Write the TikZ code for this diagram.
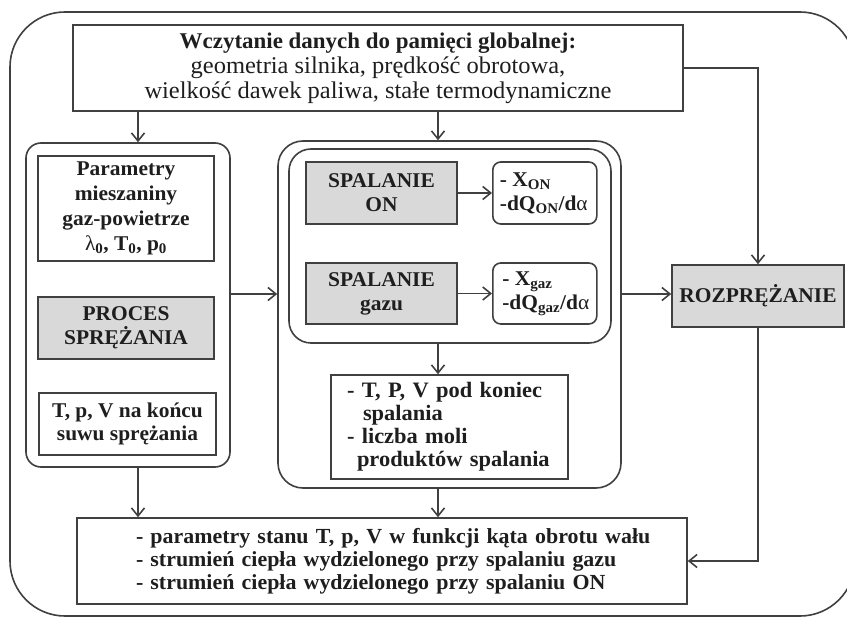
\documentclass[tikz,border=0pt]{standalone}
\usepackage{fontspec}
\setmainfont{Liberation Serif}[FakeStretch=1.02]
\usetikzlibrary{arrows.meta}
\definecolor{lc}{HTML}{404040}
\definecolor{fillg}{HTML}{D9D9D9}
\definecolor{txt}{HTML}{1E1E1E}
\begin{document}
\begin{tikzpicture}[x=1pt,y=-1pt,
  ln/.style={draw=lc, line width=1.6pt},
  arr/.style={ln, -{Straight Barb[length=8pt,width=13pt]}},
  box/.style={ln, rectangle, inner sep=0pt, align=center, text=txt,
    font=\fontsize{21}{24}\selectfont\bfseries},
  graybox/.style={box, fill=fillg},
  cont/.style={ln, rectangle, inner sep=0pt},
  ]
\useasboundingbox (0,0) rectangle (847,617);
\fill[white] (0,0) rectangle (847,617);

% outer frame
\node[cont, rounded corners=55pt, minimum width=845pt, minimum height=604pt] (outer) at (432.5,314) {};

% helper coordinates
\coordinate (xl) at (138,0);
\coordinate (xm) at (438,0);
\coordinate (ym) at (0,294);

% top box
\node[box, minimum width=610pt, minimum height=86pt, font=\fontsize{24}{25}\selectfont] (top) at (378,68)
  {{\fontsize{22.5}{25}\selectfont\bfseries Wczytanie danych do pamięci globalnej:}\\
   geometria silnika, prędkość obrotowa,\\
   wielkość dawek paliwa, stałe termodynamiczne};

% left container
\node[cont, rounded corners=15pt, minimum width=204pt, minimum height=324pt] (lc) at (128,305) {};
\node[box, minimum width=176pt, minimum height=105pt, font=\fontsize{21}{25}\selectfont\bfseries] (par) at (126,208.5)
  {Parametry\\mieszaniny\\gaz-powietrze\\{\mdseries λ}\textsubscript{0}, T\textsubscript{0}, p\textsubscript{0}};
\node[graybox, minimum width=176pt, minimum height=62pt] (proc) at (126,328)
  {PROCES\\SPRĘŻANIA};
\node[box, minimum width=177pt, minimum height=62pt, font=\fontsize{21}{23}\selectfont\bfseries] (tpv) at (127.5,424)
  {T, p, V na końcu\\suwu sprężania};

% middle container
\node[cont, rounded corners=25pt, minimum width=343pt, minimum height=347pt] (mo) at (449.5,314.5) {};
\node[cont, rounded corners=22pt, minimum width=322pt, minimum height=194pt] (mi) at (450,246) {};
\node[graybox, minimum width=151pt, minimum height=62pt] (son) at (381.5,193)
  {SPALANIE\\ON};
\node[box, rounded corners=8pt, minimum width=104pt, minimum height=62pt, align=left, anchor=west] (xon) at (492,193)
  {\hspace*{6pt}- X\textsubscript{ON}\\\hspace*{6pt}-dQ\textsubscript{ON}/d{\mdseries α}\hspace*{8pt}};
\node[graybox, minimum width=151pt, minimum height=61pt] (sgaz) at (381.5,293.5)
  {SPALANIE\\gazu};
\node[box, rounded corners=8pt, minimum width=104pt, minimum height=61pt, align=left, anchor=west] (xgaz) at (492,293.5)
  {\hspace*{6pt}- X\textsubscript{gaz}\\\hspace*{6pt}-dQ\textsubscript{gaz}/d{\mdseries α}\hspace*{4pt}};
\node[box, minimum width=237pt, minimum height=104pt, text width=229pt, align=left,
  font=\fontsize{22}{23}\selectfont\bfseries] (tpk) at (449.5,427)
  {\hspace*{12pt}- T, P, V pod koniec\\\hspace*{28pt}spalania\\\hspace*{12pt}- liczba moli\\\hspace*{22pt}produktów spalania};

% expansion
\node[graybox, minimum width=172pt, minimum height=62pt] (roz) at (758,296) {ROZPRĘŻANIE};

% bottom box
\node[box, minimum width=610pt, minimum height=86pt, text width=600pt, align=left,
  font=\fontsize{21.5}{23}\selectfont\bfseries] (bot) at (382,561)
  {\hspace*{54pt}- parametry stanu T, p, V w funkcji kąta obrotu wału\\
   \hspace*{54pt}- strumień ciepła wydzielonego przy spalaniu gazu\\
   \hspace*{54pt}- strumień ciepła wydzielonego przy spalaniu ON};

% connectors
\draw[arr] (top.south -| xl) -- (lc.north -| xl);
\draw[arr] (top.south -| xm) -- (mo.north -| xm);
\draw[arr] (top.east) -| (roz.north);
\draw[arr] (lc.east |- ym) -- (mo.west |- ym);
\draw[arr] (mo.east |- ym) -- (roz.west |- ym);
\draw[arr] (son.east) -- (xon.west);
\draw[arr] (sgaz.east) -- (xgaz.west);
\draw[arr] (mi.south -| xm) -- (tpk.north -| xm);
\draw[arr] (lc.south -| xl) -- (bot.north -| xl);
\draw[arr] (mo.south -| xm) -- (bot.north -| xm);
\draw[arr] (roz.south) |- (bot.east);
\end{tikzpicture}
\end{document}
